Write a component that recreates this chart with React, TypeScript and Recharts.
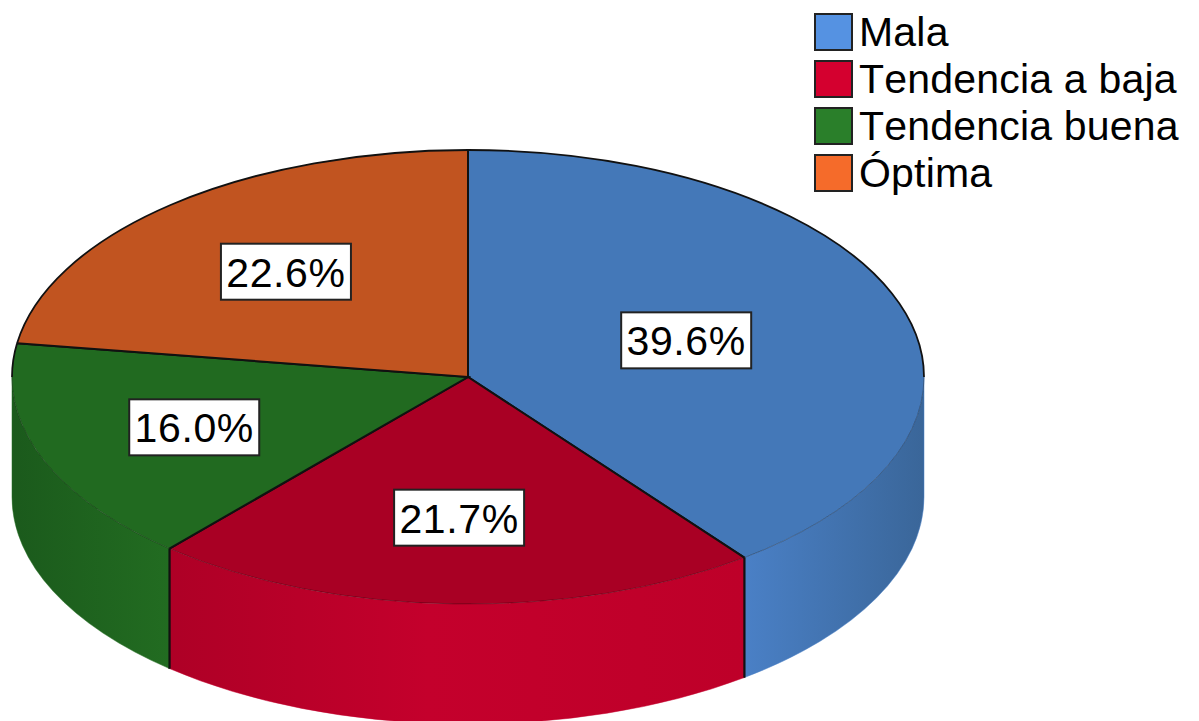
import React from "react";
import { PieChart, Pie, Legend } from "recharts";

const categories = ["Mala", "Tendencia a baja", "Tendencia buena", "Óptima"];
const percents = [39.6, 21.7, 16.0, 22.6];
const legendColors = ["#5592E2", "#D4002F", "#2A7F2A", "#F56B2A"];
const topColors = ["#4478B8", "#A90024", "#216A20", "#C15420"];
const wallStops = [
  ["#4A80C6", "#3A6699"],
  ["#AE0026", "#C4002C"],
  ["#1B5A1C", "#226C21"],
  ["#C15420", "#C15420"],
];
const wallFlat = ["#4A80C6", "#C4002C", "#226C21", "#C15420"];
const labelReach = [0.505, 0.62, 0.64, 0.612];

const W = 1199;
const H = 721;
const CX = 468;
const CY = 377;
const RX = 456;
const TILT = 227 / 456;
const DEPTH = 120;
const FONT = "'Liberation Sans', Arial, sans-serif";

const table = categories.map((name, i) => ({
  name,
  value: percents[i],
  fill: legendColors[i],
}));

const pt = (cx: number, cy: number, rx: number, ry: number, t: number) => {
  const a = (t * Math.PI) / 180;
  return [cx + rx * Math.sin(a), cy - ry * Math.cos(a)];
};

const arc = (rx: number, ry: number, from: number, to: number, sweep: number, end: number[]) =>
  `A${rx} ${ry} 0 ${Math.abs(to - from) > 180 ? 1 : 0} ${sweep} ${end[0]} ${end[1]}`;

function Slice3D(props: any) {
  const { cx, cy, outerRadius, startAngle, endAngle, name } = props;
  const i = categories.indexOf(name ?? props.payload?.name);
  const rx = outerRadius;
  const ry = outerRadius * TILT;
  const t0 = 90 - startAngle;
  const t1 = 90 - endAngle;
  const p0 = pt(cx, cy, rx, ry, t0);
  const p1 = pt(cx, cy, rx, ry, t1);
  const top = `M${cx} ${cy}L${p0[0]} ${p0[1]}${arc(rx, ry, t0, t1, 1, p1)}Z`;

  const w0 = Math.max(t0, 90);
  const w1 = Math.min(t1, 270);
  let wall: React.ReactNode = null;
  let edges: React.ReactNode[] = [];
  const gid = `wall-${i}`;
  if (w1 > w0) {
    const a = pt(cx, cy, rx, ry, w0);
    const b = pt(cx, cy, rx, ry, w1);
    const d =
      `M${a[0]} ${a[1]}${arc(rx, ry, w0, w1, 1, b)}` +
      `L${b[0]} ${b[1] + DEPTH}${arc(rx, ry, w1, w0, 0, [a[0], a[1] + DEPTH])}Z`;
    const xs = [a[0], b[0]];
    const x1 = Math.min(...xs);
    const x2 = Math.max(...xs);
    wall = (
      <g>
        <defs>
          <linearGradient id={gid} gradientUnits="userSpaceOnUse" x1={x1} x2={x2} y1={0} y2={0}>
            {i === 1 ? (
              <>
                <stop offset="0" stopColor="#AE0026" />
                <stop offset="0.45" stopColor="#C4002C" />
                <stop offset="1" stopColor="#BE0029" />
              </>
            ) : (
              <>
                <stop offset="0" stopColor={wallStops[i][0]} />
                <stop offset="1" stopColor={wallStops[i][1]} />
              </>
            )}
          </linearGradient>
        </defs>
        <path d={d} fill={`url(#${gid})`} stroke={wallFlat[i]} strokeWidth={0.5} />
      </g>
    );
    [t0, t1].forEach((t, k) => {
      if (t > 90 && t < 270) {
        const e = pt(cx, cy, rx, ry, t);
        edges.push(
          <line key={k} x1={e[0]} y1={e[1]} x2={e[0]} y2={e[1] + DEPTH} stroke="#111" strokeWidth={2} />
        );
      }
    });
  }

  // outline of the rim: strong on the far half, faint on the near half
  const rim: React.ReactNode[] = [];
  const addRim = (from: number, to: number, strong: boolean, key: string) => {
    if (to <= from) return;
    const a = pt(cx, cy, rx, ry, from);
    const b = pt(cx, cy, rx, ry, to);
    rim.push(
      <path
        key={key}
        d={`M${a[0]} ${a[1]}${arc(rx, ry, from, to, 1, b)}`}
        fill="none"
        stroke={strong ? "#111" : "#000"}
        strokeOpacity={strong ? 1 : 0.3}
        strokeWidth={strong ? 1.8 : 1}
      />
    );
  };
  addRim(t0, Math.min(t1, 90), true, "a");
  addRim(Math.max(t0, 90), Math.min(t1, 270), false, "b");
  addRim(Math.max(t0, 270), t1, true, "c");

  return (
    <g>
      {wall}
      <path d={top} fill={topColors[i]} />
      {rim}
      {edges}
      <path
        d={`M${p0[0]} ${p0[1]}L${cx} ${cy}L${p1[0]} ${p1[1]}`}
        fill="none"
        stroke="#111"
        strokeWidth={2}
      />
    </g>
  );
}

function BoxLabel(props: any) {
  const { cx, cy, outerRadius, midAngle, value, name } = props;
  const i = categories.indexOf(name ?? props.payload?.name);
  const k = labelReach[i];
  const [x, y] = pt(cx, cy, outerRadius * k, outerRadius * TILT * k, 90 - midAngle);
  return (
    <g>
      <rect x={x - 65} y={y - 28} width={130} height={56} fill="#fff" stroke="#222" strokeWidth={2} />
      <text
        x={x}
        y={y + 15}
        textAnchor="middle"
        fontFamily={FONT}
        fontSize={41}
        letterSpacing={0.6}
        fill="#000"
      >
        {`${Number(value).toFixed(1)}%`}
      </text>
    </g>
  );
}

function LegendBlock(props: any) {
  const items = props.payload ?? [];
  return (
    <div style={{ fontFamily: FONT, fontSize: 41, color: "#000", fontKerning: "none", letterSpacing: 0.2 }}>
      {items.map((p: any) => (
        <div key={p.value} style={{ display: "flex", alignItems: "center", height: 47, whiteSpace: "nowrap" }}>
          <span
            style={{
              display: "inline-block",
              boxSizing: "border-box",
              width: 39,
              height: 38,
              background: p.color,
              border: "2px solid #222",
              marginRight: 6,
            }}
          />
          <span style={{ position: "relative", top: 1 }}>{p.value}</span>
        </div>
      ))}
    </div>
  );
}

export default function App() {
  return (
    <div style={{ position: "absolute", left: 0, top: 0, width: W, height: H, background: "#fff" }}>
      <PieChart width={W} height={H} margin={{ top: 0, right: 0, bottom: 0, left: 0 }}>
        <Pie
          data={table}
          dataKey="value"
          nameKey="name"
          cx={CX}
          cy={CY}
          innerRadius={0}
          outerRadius={RX}
          startAngle={90}
          endAngle={-270}
          stroke="none"
          isAnimationActive={false}
          shape={Slice3D}
          label={BoxLabel}
          labelLine={false}
        />
        <Legend
          layout="vertical"
          align="right"
          verticalAlign="top"
          width={385}
          wrapperStyle={{ left: 814, right: "auto", top: 8, width: 385 }}
          content={LegendBlock}
        />
      </PieChart>
    </div>
  );
}
